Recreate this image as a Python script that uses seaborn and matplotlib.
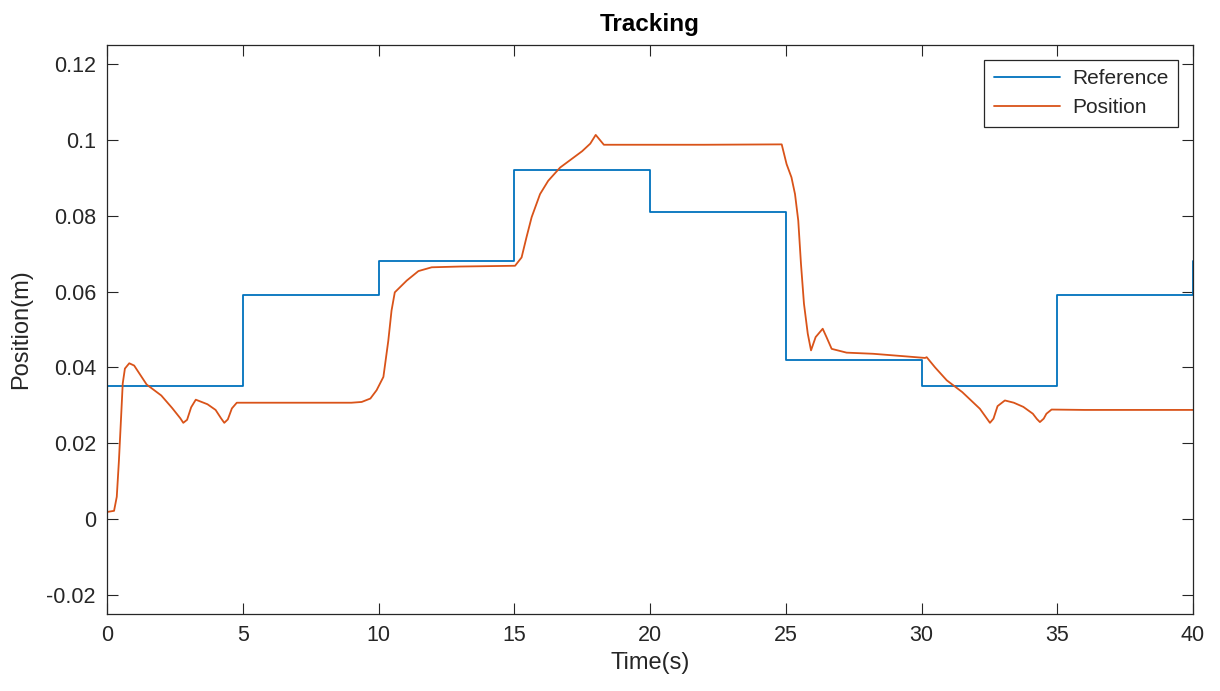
import numpy as np
import pandas as pd
import matplotlib
matplotlib.use("Agg")
import matplotlib.pyplot as plt
import seaborn as sns

# Reference step signal (value holds from each time until the next)
ref_time = [0, 5, 10, 15, 20, 25, 30, 35, 40]
ref_value = [0.035, 0.059, 0.068, 0.092, 0.081, 0.042, 0.035, 0.059, 0.068]

pos_time = [0, 0.26, 0.36, 0.44, 0.52, 0.58, 0.66, 0.82, 1.0, 1.46, 2.0, 2.4, 2.7, 2.81,
            2.95, 3.1, 3.27, 3.7, 4.0, 4.2, 4.32, 4.45, 4.6, 4.78, 5.5, 7.0, 9.0, 9.38, 9.7, 9.93,
            10.18, 10.36, 10.48, 10.6, 11.04, 11.47, 11.96, 13.0, 15.03, 15.27, 15.45,
            15.64, 15.95, 16.25, 16.69, 17.18, 17.5, 17.8, 18.0, 18.3, 20.0, 22.0,
            24.85, 25.03, 25.21, 25.34, 25.46, 25.56, 25.67, 25.81, 25.93, 26.1, 26.36,
            26.5, 26.69, 27.24, 28.22, 29.45, 30.13, 30.19, 30.5, 30.93, 31.5, 32.15,
            32.4, 32.52, 32.65, 32.8, 33.07, 33.4, 33.75, 34.1, 34.25, 34.36, 34.5, 34.6,
            34.79, 36.0, 38.0, 40.0]
pos_value = [0.0019, 0.0022, 0.0059, 0.0155, 0.027, 0.0358, 0.0397, 0.0411, 0.0405,
             0.0355, 0.0326, 0.0293, 0.0266, 0.0254, 0.0262, 0.0295, 0.0315, 0.0303,
             0.0288, 0.0266, 0.0254, 0.0263, 0.0292, 0.0307, 0.0307, 0.0307, 0.0307,
             0.0309, 0.0318, 0.034, 0.0375,
             0.047, 0.055, 0.0598, 0.0629, 0.0654, 0.0664, 0.0666, 0.0668, 0.069,
             0.0743, 0.0796, 0.0857, 0.0892, 0.0927, 0.0953, 0.097, 0.099, 0.1013,
             0.0987, 0.0987, 0.0987, 0.0988, 0.0936, 0.0901, 0.0857, 0.0787, 0.0673,
             0.0568, 0.0489, 0.0445, 0.048, 0.0502, 0.048, 0.0449, 0.0439, 0.0436,
             0.0429, 0.0425, 0.0427, 0.040, 0.0366, 0.0335, 0.0291, 0.0266, 0.0254,
             0.0265, 0.0298, 0.0313, 0.0307, 0.0296, 0.0278, 0.0264, 0.0256, 0.0265,
             0.0278, 0.0289, 0.0288, 0.0288, 0.0288]

x_ticks = [0, 5, 10, 15, 20, 25, 30, 35, 40]
y_ticks = [-0.02, 0, 0.02, 0.04, 0.06, 0.08, 0.1, 0.12]
y_tick_labels = ["-0.02", "0", "0.02", "0.04", "0.06", "0.08", "0.1", "0.12"]

ref_df = pd.DataFrame({"t": ref_time, "v": ref_value})
pos_df = pd.DataFrame({"t": pos_time, "v": pos_value})

sns.set_theme(style="white")
plt.rcParams["font.family"] = ["Liberation Sans", "DejaVu Sans"]
text_col = "#262626"

fig = plt.figure(figsize=(12.2, 6.91), dpi=100)
ax = fig.add_axes([0.0877, 0.1114, 0.8902, 0.8235])

sns.lineplot(data=ref_df, x="t", y="v", ax=ax, color="#0072BD", lw=1.3,
             drawstyle="steps-post", label="Reference", estimator=None)
sns.lineplot(data=pos_df, x="t", y="v", ax=ax, color="#D95319", lw=1.3,
             label="Position", estimator=None)

ax.set_xlim(0, 40)
ax.set_ylim(-0.025, 0.125)
ax.set_xticks(x_ticks)
ax.set_xticklabels([str(t) for t in x_ticks])
ax.set_yticks(y_ticks)
ax.set_yticklabels(y_tick_labels)

ax.tick_params(direction="in", length=8, width=0.8, colors=text_col,
               labelsize=15.5, top=True, right=True, bottom=True, left=True,
               labeltop=False, labelright=False, pad=8)
for s in ax.spines.values():
    s.set_color(text_col)
    s.set_linewidth(0.9)
    s.set_visible(True)

ax.set_xlabel("Time(s)", fontsize=17, color=text_col, labelpad=4)
ax.set_ylabel("Position(m)", fontsize=17, color=text_col, labelpad=10)
ax.set_title("Tracking", fontsize=17.5, fontweight="bold", color="black", pad=10)

leg = ax.legend(loc="upper right", fontsize=15, frameon=True, fancybox=False,
                handlelength=3.2, handletextpad=0.6, borderpad=0.45,
                labelspacing=0.5, borderaxespad=0.7)
leg.get_frame().set_edgecolor(text_col)
leg.get_frame().set_linewidth(0.9)
leg.get_frame().set_alpha(1)
for t in leg.get_texts():
    t.set_color(text_col)

fig.savefig("out.png", dpi=100, facecolor="white")
